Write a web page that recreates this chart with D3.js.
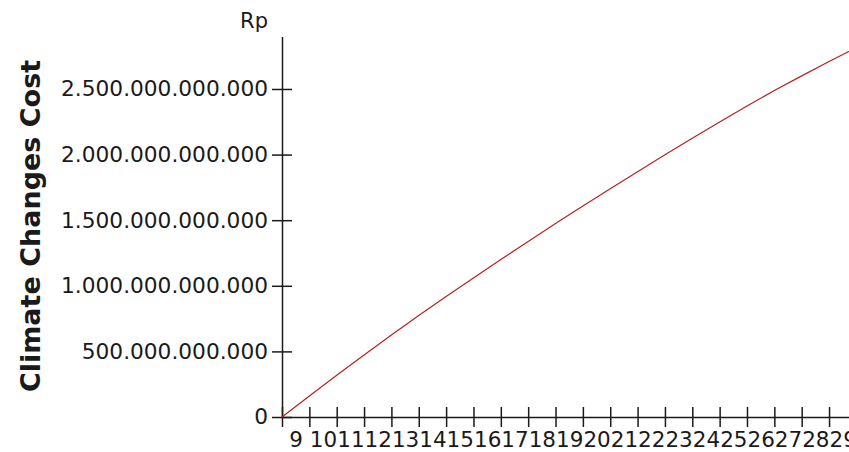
<!DOCTYPE html>
<html>
<head>
<meta charset="utf-8">
<script src="https://cdn.jsdelivr.net/npm/d3@7"></script>
<style>
  body { margin: 0; background: #fff; }
  svg { display: block; }
</style>
</head>
<body>
<svg></svg>
<script>
var width = 849;
var height = 452;

// years on the x axis and the cost values (Rp)
var years = [9, 10, 11, 12, 13, 14, 15, 16, 17, 18, 19, 20, 21, 22, 23, 24, 25, 26, 27, 28, 29, 30];
var cost = [0, 160e9, 318e9, 473e9, 625e9, 773e9, 918e9, 1060e9, 1200e9, 1338e9, 1474e9,
            1608e9, 1740e9, 1870e9, 1998e9, 2124e9, 2248e9, 2370e9, 2488e9, 2600e9, 2710e9, 2815e9];
var xTicks = [9, 10, 11, 12, 13, 14, 15, 16, 17, 18, 19, 20, 21, 22, 23, 24, 25, 26, 27, 28, 29];
var yTicks = [0, 500e9, 1000e9, 1500e9, 2000e9, 2500e9];
var yTitle = "Climate Changes Cost";
var yUnit = "Rp";

var svg = d3.select('svg')
    .attr('width', width)
    .attr('height', height);

var x = d3.scaleLinear()
    .domain([9, 30])
    .range([282, 856.4]);

var y = d3.scaleLinear()
    .domain([0, 2.9e12])
    .range([417, 36.5]);

// dots as thousands separator
var locale = d3.formatLocale({decimal: ",", thousands: ".", grouping: [3], currency: ["Rp", ""]});
var fmt = locale.format(",.0f");

var font = "'DejaVu Sans', Verdana, sans-serif";
var ink = "#1a1a1a";

// y axis
var yAxis = svg.append('g')
    .attr('transform', 'translate(282,0)')
    .call(d3.axisLeft(y).tickValues(yTicks).tickFormat(fmt).tickSize(10).tickSizeOuter(0).tickPadding(4));

yAxis.selectAll('.tick line').attr('x1', 10);
yAxis.selectAll('.tick text').style('font-size', '21.7px');

// x axis
var xAxis = svg.append('g')
    .attr('transform', 'translate(0,417)')
    .call(d3.axisBottom(x).tickValues(xTicks).tickFormat(d3.format('d')).tickSize(10).tickSizeOuter(0));

xAxis.selectAll('.tick line').attr('y1', -10);
// labels sit between the ticks, half a step to the right
var half = (x(10) - x(9)) / 2;
xAxis.selectAll('.tick text')
    .attr('x', half)
    .attr('y', 30)
    .attr('dy', null)
    .style('font-size', '21.5px');

svg.selectAll('.domain, .tick line')
    .attr('stroke', ink)
    .attr('stroke-width', 1.5);

svg.selectAll('.tick text')
    .attr('fill', ink)
    .style('font-family', font);

// line
var line = d3.line()
    .x(function(d, i){ return x(years[i]); })
    .y(function(d){ return y(d); });

svg.append('path')
    .datum(cost)
    .attr('d', line)
    .attr('fill', 'none')
    .attr('stroke', '#b22222')
    .attr('stroke-width', 1.2);

// unit label
svg.append('text')
    .attr('x', 268)
    .attr('y', 28)
    .attr('text-anchor', 'end')
    .attr('fill', ink)
    .style('font-family', font)
    .style('font-size', '21px')
    .text(yUnit);

// y title
svg.append('text')
    .attr('transform', 'translate(40,226) rotate(-90)')
    .attr('text-anchor', 'middle')
    .attr('fill', ink)
    .style('font-family', font)
    .style('font-weight', 'bold')
    .style('font-size', '27px')
    .text(yTitle);
</script>
</body>
</html>
